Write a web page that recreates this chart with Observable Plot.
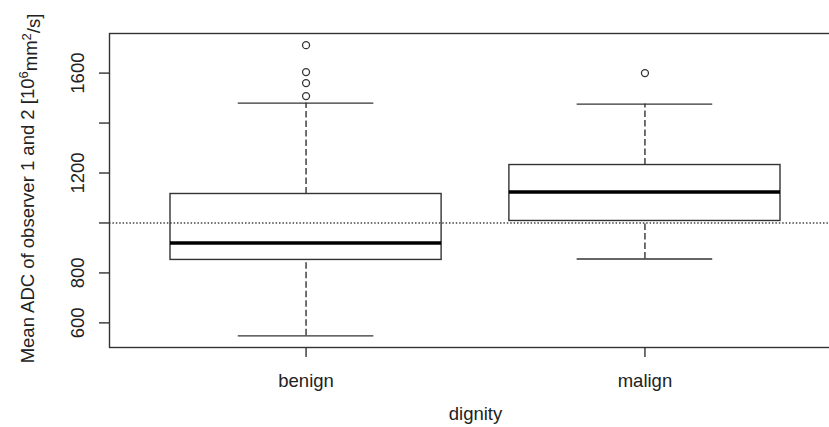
<!DOCTYPE html>
<html>
<head>
<meta charset="utf-8">
<script src="https://cdn.jsdelivr.net/npm/d3@7"></script>
<script src="https://cdn.jsdelivr.net/npm/@observablehq/plot@0.6"></script>
<style>
  html, body { margin: 0; padding: 0; background: #fff; overflow: hidden; width: 829px; height: 427px; }
  #chart { width: 829px; height: 427px; overflow: hidden; }
  #chart svg { display: block; max-width: none !important; }
</style>
</head>
<body>
<div id="chart"></div>
<script>
// ---- data ----
const categories = ["benign", "malign"];
const whiskerLow = [548, 856];
const q1 = [852, 1008];
const median = [920, 1124];
const q3 = [1116, 1232];
const whiskerHigh = [1480, 1476];
const outliersBenign = [1508, 1560, 1604, 1712];
const outliersMalign = [1600];
const refLine = [1000];
const yTicks = [600, 800, 1000, 1200, 1400, 1600];
const yTickLabels = ["600", "800", "", "1200", "", "1600"];
const xLabel = "dignity";
const yLabel = "Mean ADC of observer 1 and 2 [10^6mm^2/s]";

const boxes = categories.map((c, i) => ({
  cat: c, pos: i + 1,
  low: whiskerLow[i], q1: q1[i], med: median[i], q3: q3[i], high: whiskerHigh[i]
}));
const outliers = [
  ...outliersBenign.map(v => ({pos: 1, v})),
  ...outliersMalign.map(v => ({pos: 2, v}))
];
const yTickData = yTicks.map((v, i) => ({v, label: yTickLabels[i]}));

const ink = "#333";
const font = "Liberation Sans, Arial, Helvetica, sans-serif";

const chart = Plot.plot({
  width: 845,
  height: 427,
  marginLeft: 109,
  marginRight: 4,
  marginTop: 33,
  marginBottom: 80,
  style: {fontFamily: font, fontSize: "18.5px", color: "#222", background: "#fff"},
  x: {type: "linear", domain: [0.42, 2.58], axis: null},
  y: {type: "linear", domain: [501.4, 1758.6], axis: null},
  marks: [
    // reference dotted line
    Plot.ruleY(refLine, {stroke: "#444", strokeWidth: 1.6, strokeDasharray: "1.5,1.9"}),
    // whiskers (dashed)
    Plot.ruleX(boxes, {x: "pos", y1: "q3", y2: "high", stroke: ink, strokeWidth: 1.4, strokeDasharray: "6.5,3"}),
    Plot.ruleX(boxes, {x: "pos", y1: "low", y2: "q1", stroke: ink, strokeWidth: 1.4, strokeDasharray: "6.5,3"}),
    // whisker caps
    Plot.ruleY(boxes, {y: "high", x1: d => d.pos - 0.2, x2: d => d.pos + 0.2, stroke: ink, strokeWidth: 1.4}),
    Plot.ruleY(boxes, {y: "low", x1: d => d.pos - 0.2, x2: d => d.pos + 0.2, stroke: ink, strokeWidth: 1.4}),
    // boxes
    Plot.rect(boxes, {x1: d => d.pos - 0.4, x2: d => d.pos + 0.4, y1: "q1", y2: "q3", fill: "none", stroke: ink, strokeWidth: 1.4}),
    // medians
    Plot.ruleY(boxes, {y: "med", x1: d => d.pos - 0.4, x2: d => d.pos + 0.4, stroke: "#000", strokeWidth: 3.6}),
    // outliers
    Plot.dot(outliers, {x: "pos", y: "v", r: 3.5, stroke: ink, strokeWidth: 1.3, fill: "none"}),
    // frame
    Plot.frame({stroke: ink, strokeWidth: 1.4}),
    // y ticks and labels
    Plot.axisY({ticks: yTicks, tickFormat: () => "", tickSize: 10, stroke: ink, strokeWidth: 1.4, label: null}),
    Plot.text(yTickData, {y: "v", text: "label", frameAnchor: "left", textAnchor: "middle", lineAnchor: "middle", dx: -31, rotate: -90, fill: "#222", fontSize: 18.5}),
    // x axis
    Plot.axisX({ticks: [1, 2], tickFormat: d => categories[d - 1], tickSize: 10, tickPadding: 16, stroke: ink, strokeWidth: 1.4, fill: "#222", label: null, fontSize: 18.5}),
    // axis titles
    Plot.text([xLabel], {text: d => d, frameAnchor: "bottom", textAnchor: "middle", lineAnchor: "middle", dy: 67, fill: "#222", fontSize: 18.5}),
    Plot.text([yLabel], {text: d => d, frameAnchor: "left", textAnchor: "middle", lineAnchor: "middle", dx: -81, dy: -2, rotate: -90, fill: "#222", fontSize: 18.5})
  ]
});

document.getElementById("chart").appendChild(chart);

// render superscripts in the y-axis title
d3.select(chart).selectAll("text").each(function() {
  if (this.textContent === yLabel) {
    const parts = [["Mean ADC of observer 1 and 2 [10", 0], ["6", 1], ["mm", 0], ["2", 1], ["/s]", 0]];
    const t = d3.select(this);
    t.text(null);
    let raised = false;
    parts.forEach(([s, sup]) => {
      const span = t.append("tspan").text(s);
      if (sup && !raised) { span.attr("dy", "-0.5em").attr("font-size", "13px"); raised = true; }
      else if (!sup && raised) { span.attr("dy", "0.5em"); raised = false; }
    });
  }
});
</script>
</body>
</html>
